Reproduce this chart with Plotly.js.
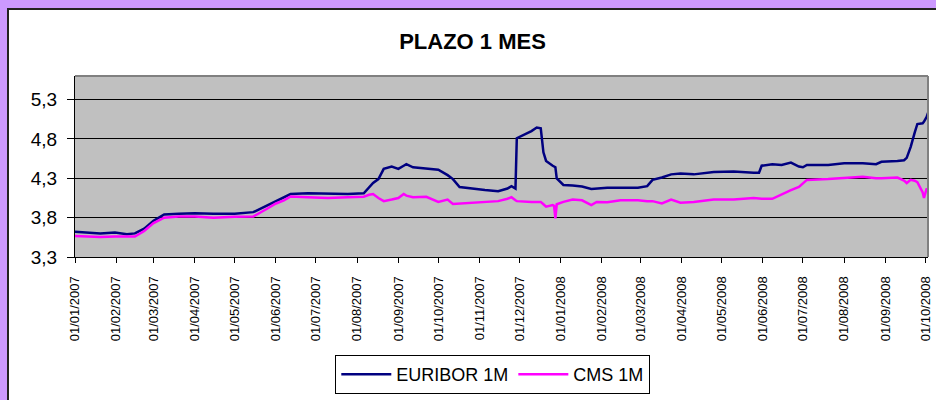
<!DOCTYPE html>
<html>
<head>
<meta charset="utf-8">
<script src="https://cdn.plot.ly/plotly-3.0.1.min.js"></script>
<style>
  html, body { margin: 0; padding: 0; background: #CC99FF; width: 936px; height: 400px; overflow: hidden; }
  #frame { position: absolute; left: 7px; top: 8px; border-left: 2px solid #222; border-top: 2px solid #222; width: 927px; height: 390px; background: #fff; }
  #chart { width: 927px; height: 390px; }
</style>
</head>
<body>
<div id="frame"><div id="chart"></div></div>
<script>
// Dates (business-day samples)
const dates = [
  '2007-01-01','2007-01-10','2007-01-20','2007-01-31','2007-02-09','2007-02-15','2007-02-22',
  '2007-03-01','2007-03-09','2007-03-20','2007-04-01','2007-04-15','2007-05-01','2007-05-15','2007-05-25',
  '2007-06-01','2007-06-07','2007-06-12','2007-06-25','2007-07-10','2007-07-25',
  '2007-08-06','2007-08-10','2007-08-13','2007-08-17','2007-08-21','2007-08-27',
  '2007-09-01','2007-09-05','2007-09-07','2007-09-12','2007-09-22',
  '2007-10-01','2007-10-08','2007-10-12','2007-10-17','2007-10-25',
  '2007-11-05','2007-11-15','2007-11-22','2007-11-25','2007-11-28','2007-11-29',
  '2007-12-10','2007-12-14','2007-12-17','2007-12-19','2007-12-21','2007-12-26','2007-12-27','2007-12-28','2007-12-29',
  '2008-01-03','2008-01-10','2008-01-17','2008-01-24','2008-01-28','2008-02-05','2008-02-15','2008-02-28',
  '2008-03-06','2008-03-10','2008-03-17','2008-03-24','2008-03-31','2008-04-10','2008-04-25',
  '2008-05-10','2008-05-25','2008-05-29','2008-05-31','2008-06-08','2008-06-15','2008-06-22','2008-06-28',
  '2008-07-01','2008-07-04','2008-07-20','2008-08-01','2008-08-15','2008-08-25','2008-08-29',
  '2008-09-10','2008-09-15','2008-09-17','2008-09-20','2008-09-23','2008-09-25','2008-09-29','2008-09-30','2008-10-02','2008-10-03'
];

const euribor1m = [
  3.62,3.61,3.60,3.61,3.59,3.60,3.66,
  3.76,3.84,3.85,3.855,3.85,3.85,3.87,3.95,
  4.01,4.05,4.10,4.11,4.105,4.10,
  4.11,4.18,4.24,4.29,4.42,4.45,
  4.42,4.46,4.48,4.44,4.42,
  4.41,4.34,4.29,4.19,4.17,
  4.15,4.135,4.17,4.20,4.17,4.81,
  4.90,4.945,4.935,4.63,4.52,4.46,4.45,4.44,4.30,
  4.215,4.21,4.195,4.165,4.17,4.18,4.18,4.18,
  4.20,4.28,4.31,4.35,4.36,4.35,4.38,
  4.385,4.37,4.37,4.46,4.48,4.47,4.50,4.45,
  4.44,4.47,4.47,4.49,4.49,4.48,4.51,
  4.52,4.53,4.56,4.70,4.88,4.99,5.00,5.02,5.08,5.13
];

const cms1m = [
  3.567,3.56,3.555,3.56,3.555,3.56,3.63,
  3.73,3.80,3.815,3.815,3.80,3.81,3.815,3.91,
  3.98,4.02,4.07,4.06,4.05,4.06,
  4.067,4.09,4.10,4.05,4.01,4.03,
  4.05,4.10,4.08,4.06,4.065,
  4.00,4.03,3.975,3.98,3.995,
  4.00,4.01,4.04,4.06,4.02,4.01,
  4.00,4.00,4.00,3.97,3.94,3.96,3.95,3.79,3.97,
  4.00,4.03,4.02,3.96,4.00,3.997,4.02,4.02,
  4.01,4.01,3.98,4.03,3.99,4.00,4.03,
  4.03,4.05,4.04,4.04,4.04,4.10,4.15,4.19,
  4.24,4.28,4.29,4.30,4.32,4.30,4.30,
  4.31,4.27,4.24,4.28,4.27,4.25,4.12,4.05,4.17,4.15
];

const seriesNames = ['EURIBOR 1M', 'CMS 1M'];
const yTicks = [3.3, 3.8, 4.3, 4.8, 5.3];
const chartTitle = 'PLAZO 1 MES';

const FONT = '"Liberation Sans", Arial, sans-serif';

const traces = [
  { x: dates, y: euribor1m, name: seriesNames[0], type: 'scatter', mode: 'lines',
    line: { color: '#000080', width: 2.5 } },
  { x: dates, y: cms1m, name: seriesNames[1], type: 'scatter', mode: 'lines',
    line: { color: '#FF00FF', width: 2.5 } }
];

const layout = {
  width: 927, height: 390,
  margin: { l: 66, r: 8, t: 66, b: 143, pad: 0 },
  paper_bgcolor: '#FFFFFF',
  plot_bgcolor: '#C0C0C0',
  separators: ',.',
  font: { family: FONT, color: '#000' },
  title: { text: chartTitle, font: { family: FONT, size: 22, weight: 'bold', color: '#000' },
           x: 0.5, xanchor: 'center', xref: 'container', y: 1 - 31/390, yref: 'container', yanchor: 'middle' },
  xaxis: {
    type: 'date',
    range: ['2007-01-01', '2008-10-03'],
    dtick: 'M1', tick0: '2007-01-01',
    tickformat: '%d/%m/%Y',
    tickangle: -90,
    tickfont: { family: FONT, size: 13, color: '#000' },
    ticks: 'outside', ticklen: 5, tickcolor: '#000', tickwidth: 1,
    showgrid: false, zeroline: false,
    showline: true, linecolor: '#000', linewidth: 1,
    ticklabelstandoff: 8,
    fixedrange: true
  },
  yaxis: {
    range: [3.3, 5.6],
    tickvals: yTicks,
    tickformat: '.1f',
    tickfont: { family: FONT, size: 19, color: '#000' },
    ticks: 'outside', ticklen: 7, tickcolor: '#000', tickwidth: 1,
    showgrid: true, gridcolor: '#000', gridwidth: 1,
    zeroline: false,
    showline: true, linecolor: '#000', linewidth: 1,
    ticklabelstandoff: 6,
    fixedrange: true
  },
  shapes: [
    { type: 'line', xref: 'paper', yref: 'paper', x0: 0, x1: 1, y0: 1, y1: 1, line: { color: '#808080', width: 2 } },
    { type: 'line', xref: 'paper', yref: 'paper', x0: 1, x1: 1, y0: 0, y1: 1, line: { color: '#808080', width: 2 } }
  ],
  showlegend: true,
  legend: {
    orientation: 'h',
    xref: 'container', x: 483.8/927, xanchor: 'center',
    yref: 'container', y: 1 - 345/390, yanchor: 'top',
    bgcolor: '#FFFFFF', bordercolor: '#000', borderwidth: 1,
    font: { family: FONT, size: 18, color: '#000' },
    itemwidth: 50
  }
};

Plotly.newPlot('chart', traces, layout, { displayModeBar: false, staticPlot: true });
</script>
</body>
</html>
